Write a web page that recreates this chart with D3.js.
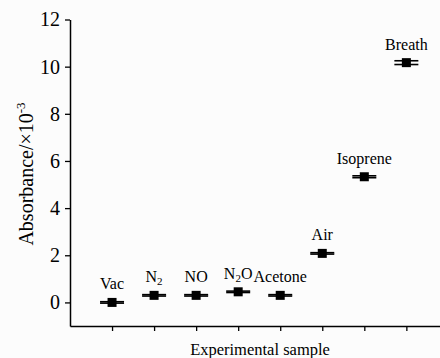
<!DOCTYPE html>
<html>
<head>
<meta charset="utf-8">
<script src="https://cdn.jsdelivr.net/npm/d3@7"></script>
<style>
body { margin: 0; background: #fcfcfc; }
</style>
</head>
<body>
<script>
// samples and measured absorbance (x10^-3)
var samples = ['Vac', 'N2', 'NO', 'N2O', 'Acetone', 'Air', 'Isoprene', 'Breath'];
var absorbance = [0, 0.3, 0.3, 0.45, 0.3, 2.08, 5.33, 10.17];
var errors = [0.03, 0.03, 0.03, 0.03, 0.03, 0.03, 0.04, 0.08];
var yTicks = [0, 2, 4, 6, 8, 10, 12];

var serif = 'Liberation Serif, Times New Roman, serif';

var svg = d3.select('body').append('svg')
	.attr('width', 440)
	.attr('height', 358)
	.attr('font-family', serif)
	.style('display', 'block');

var x = d3.scaleLinear().domain([0, 8.8]).range([70, 440]);
var y = d3.scaleLinear().domain([-1, 12]).range([326, 19.5]);

// y axis
var yAxis = svg.append('g')
	.attr('transform', 'translate(70,0)')
	.call(d3.axisLeft(y).tickValues(yTicks).tickSize(5).tickPadding(5).tickSizeOuter(0))
	.attr('font-family', serif);
yAxis.select('.domain').attr('stroke', '#000').attr('stroke-width', 1.5);
yAxis.selectAll('.tick line').attr('stroke-width', 1.3);
yAxis.selectAll('.tick text').attr('font-size', 20).attr('font-family', serif).attr('fill', '#000');

// x axis
var xAxis = svg.append('g')
	.attr('transform', 'translate(0,326)')
	.call(d3.axisBottom(x).tickValues(d3.range(1, samples.length + 1)).tickSize(5).tickSizeOuter(0).tickFormat(''));
xAxis.select('.domain').attr('stroke', '#000').attr('stroke-width', 1.5);
xAxis.selectAll('.tick line').attr('stroke-width', 1.3);

// error bars
var pts = svg.append('g').selectAll('g')
	.data(samples)
	.enter().append('g');

pts.append('line')
	.attr('x1', function(d, i){ return x(i + 1); })
	.attr('x2', function(d, i){ return x(i + 1); })
	.attr('y1', function(d, i){ return y(absorbance[i] - errors[i]); })
	.attr('y2', function(d, i){ return y(absorbance[i] + errors[i]); })
	.attr('stroke', '#000').attr('stroke-width', 1.5);

[-1, 1].forEach(function(s){
	pts.append('line')
		.attr('x1', function(d, i){ return x(i + 1) - 12; })
		.attr('x2', function(d, i){ return x(i + 1) + 12; })
		.attr('y1', function(d, i){ return y(absorbance[i] + s * errors[i]); })
		.attr('y2', function(d, i){ return y(absorbance[i] + s * errors[i]); })
		.attr('stroke', '#000').attr('stroke-width', 1.6);
});

pts.append('rect')
	.attr('x', function(d, i){ return x(i + 1) - 4.5; })
	.attr('y', function(d, i){ return y(absorbance[i]) - 4.5; })
	.attr('width', 9)
	.attr('height', 9)
	.attr('fill', '#000');

// labels with subscripts
var labels = pts.append('text')
	.attr('x', function(d, i){ return x(i + 1); })
	.attr('y', function(d, i){ return y(absorbance[i]) - 13; })
	.attr('text-anchor', 'middle')
	.attr('font-family', serif)
	.attr('font-size', 16)
	.attr('fill', '#000');

labels.each(function(d){
	var t = d3.select(this);
	var m = d.match(/^([A-Za-z]+?)(2)(.*)$/);
	if (m) {
		t.append('tspan').text(m[1]);
		t.append('tspan').attr('font-size', 11).attr('dy', 3).text(m[2]);
		if (m[3]) t.append('tspan').attr('dy', -3).text(m[3]);
	} else {
		t.text(d);
	}
});

// axis titles
svg.append('text')
	.attr('transform', 'translate(33,174) rotate(-90)')
	.attr('text-anchor', 'middle')
	.attr('font-family', serif)
	.attr('font-size', 20)
	.attr('fill', '#000')
	.text('Absorbance/×10')
	.append('tspan').attr('font-size', 13).attr('dy', -8).text('-3');

svg.append('text')
	.attr('x', 260)
	.attr('y', 355)
	.attr('text-anchor', 'middle')
	.attr('font-family', serif)
	.attr('font-size', 16.5)
	.attr('fill', '#000')
	.text('Experimental sample');
</script>
</body>
</html>
